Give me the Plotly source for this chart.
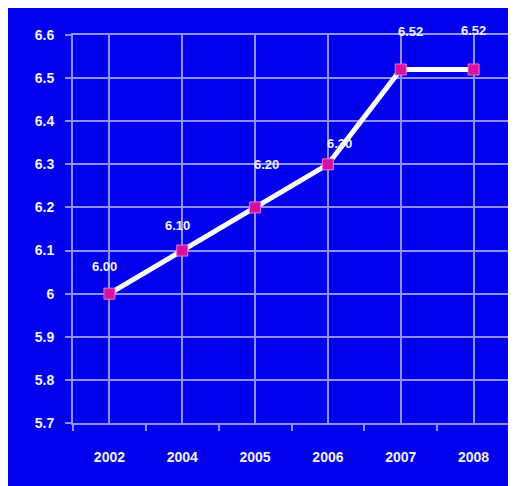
import plotly.graph_objects as go

years = ["2002", "2004", "2005", "2006", "2007", "2008"]
values = [6.00, 6.10, 6.20, 6.30, 6.52, 6.52]
y_ticks = [5.7, 5.8, 5.9, 6.0, 6.1, 6.2, 6.3, 6.4, 6.5, 6.6]
y_tick_text = ["5.7", "5.8", "5.9", "6", "6.1", "6.2", "6.3", "6.4", "6.5", "6.6"]

# pixel nudges for the data labels (they sit a bit irregularly in the original)
label_shift = [(-5, 27), (-5, 25), (11, 43), (12, 21), (10, 38), (0, 39)]

BLUE = "#0000EE"
GRID = "#8F8FFF"
TEXT = "#F2F2F2"
FONT = "Liberation Sans, Arial, sans-serif"

xs = list(range(len(years)))

fig = go.Figure(
    go.Scatter(
        x=xs,
        y=values,
        mode="lines+markers",
        line=dict(color="#FFFFFF", width=5),
        marker=dict(symbol="square", size=11, color="#D4109E",
                    line=dict(color="#F070C8", width=1)),
        cliponaxis=False,
        hoverinfo="skip",
    )
)

for x, v, (dx, dy) in zip(xs, values, label_shift):
    fig.add_annotation(
        x=x, y=v, text=f"<b>{v:.2f}</b>", showarrow=False,
        xshift=dx, yshift=dy, font=dict(family=FONT, size=13, color=TEXT),
    )

# the page body adds an 8px white margin on the left/top, which stands in
# for the thin white strip of the original picture
fig.update_layout(
    width=508,
    height=478,
    margin=dict(l=65, r=6, t=27, b=63),
    paper_bgcolor=BLUE,
    plot_bgcolor=BLUE,
    showlegend=False,
    font=dict(family=FONT, color=TEXT),
)

fig.update_xaxes(
    range=[-0.5, len(years) - 0.5],
    tickvals=xs,
    ticktext=[f"<b>{y}</b>" for y in years],
    tickfont=dict(size=14, color=TEXT),
    ticks="",
    ticklabelstandoff=20,
    automargin=False,
    showgrid=True, gridcolor=GRID, gridwidth=2,
    showline=True, linecolor=GRID, linewidth=2, mirror=True,
    zeroline=False,
    minor=dict(tickvals=[i - 0.5 for i in range(len(years) + 1)],
               ticks="outside", ticklen=6, tickcolor=GRID, tickwidth=2,
               showgrid=False),
)

fig.update_yaxes(
    range=[5.7, 6.6],
    tickvals=y_ticks,
    ticktext=[f"<b>{t}</b>" for t in y_tick_text],
    tickfont=dict(size=14, color=TEXT),
    ticks="outside", ticklen=6, tickcolor=GRID, tickwidth=2,
    ticklabelstandoff=8,
    automargin=False,
    showgrid=True, gridcolor=GRID, gridwidth=2,
    showline=True, linecolor=GRID, linewidth=2, mirror=True,
    zeroline=False,
)

fig.write_html("out.html")
